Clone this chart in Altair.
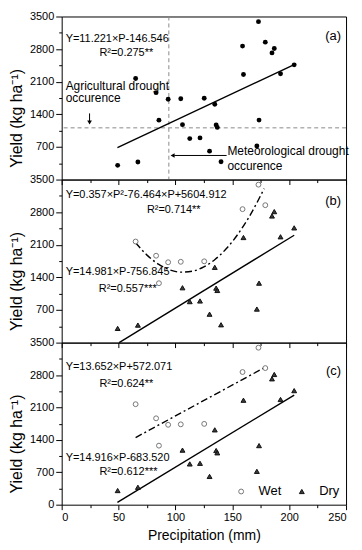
import altair as alt
import pandas as pd

# ---------------- data ----------------
wet_p = [65.0, 83.0, 85.5, 93.6, 104.7, 125.3, 159.0, 173.0, 179.0]
wet_y = [2170, 1865, 1275, 1725, 1735, 1745, 2865, 3390, 2950]

dry_p = [49.2, 67.0, 106.2, 112.6, 121.6, 130.0, 134.6, 135.8, 136.8, 140.1,
         159.8, 171.6, 173.5, 184.9, 186.9, 192.4, 204.4]
dry_y = [305, 376, 1178, 880, 894, 610, 1616, 1170, 1120, 383,
         2256, 720, 1276, 2718, 2812, 2272, 2463]
dry_in_c = [True, True, True, True, True, True, True, True, True, False,
            True, True, True, True, True, True, True]

# fitted lines (end points / curve points)
fit_a_p = [49.0, 204.4]
fit_a_y = [687, 2466]
fit_b_dry_p = [50.5, 204.4]
fit_b_dry_y = [0, 2305]
fit_b_wet_p = [65, 75, 85, 95, 105, 115, 125, 135, 145, 155, 165, 178]
fit_b_wet_y = [2143, 1878, 1685, 1563, 1512, 1533, 1625, 1789, 2024, 2330, 2708, 3306]
fit_c_wet_p = [65.0, 179.0]
fit_c_wet_y = [1450, 2970]
fit_c_dry_p = [49.0, 204.4]
fit_c_dry_y = [48, 2366]

met_drought_p = 94.2
agr_drought_y = 1110

x_major = [0, 50, 100, 150, 200, 250]
x_minor = [25, 75, 125, 175, 225]
y_major = [0, 700, 1400, 2100, 2800, 3500]
y_minor = [350, 1050, 1750, 2450, 3150]

FONT = "Liberation Sans"
W = 286
YTITLE = "Yield (kg ha⁻¹)"

pts_all = pd.DataFrame({"p": wet_p + dry_p, "v": wet_y + dry_y})
grp = pd.DataFrame({
    "p": wet_p + dry_p,
    "v": wet_y + dry_y,
    "group": ["Wet"] * len(wet_p) + ["Dry"] * len(dry_p),
    "in_c": [True] * len(wet_p) + dry_in_c,
})

xs = alt.Scale(domain=[0, 250], nice=False, zero=False)
ys = alt.Scale(domain=[0, 3500], nice=False, zero=False)


def axis_layers(df, show_x, y_vals, h):
    major = alt.Chart(df).mark_point(opacity=0).encode(
        x=alt.X("p:Q", scale=xs, axis=alt.Axis(
            orient="bottom", values=x_major, tickSize=5, labels=show_x, format="d",
            title="Precipitation (mm)" if show_x else None,
            labelPadding=2, titlePadding=6, titleFontSize=14, titleFontWeight="normal")),
        y=alt.Y("v:Q", scale=ys, axis=alt.Axis(
            orient="left", values=y_vals, tickSize=6, title=YTITLE, format="d",
            labelPadding=2, titlePadding=5, titleFontWeight="normal",
            titleY=h / 2 + 20)),
    )
    minor = alt.Chart(df).mark_point(opacity=0).encode(
        x=alt.X("p:Q", scale=xs, axis=alt.Axis(
            orient="bottom", values=x_minor, tickSize=3, labels=False, title=None)),
        y=alt.Y("v:Q", scale=ys, axis=alt.Axis(
            orient="left", values=y_minor, tickSize=3, labels=False, title=None)),
    )
    return [major, minor]


def X(field="p"):
    return alt.X(f"{field}:Q", scale=xs, axis=None)


def Y(field="v"):
    return alt.Y(f"{field}:Q", scale=ys, axis=None)


def line(ps, vs, dash=None):
    df = pd.DataFrame({"p": ps, "v": vs})
    kw = dict(color="black", strokeWidth=1.4)
    if dash:
        kw["strokeDash"] = dash
    m = alt.Chart(df).mark_line(interpolate="monotone", **kw)
    return m.encode(x=X(), y=Y(), order="p:Q")


def texts(items, align="left", size=11):
    df = pd.DataFrame(items, columns=["p", "v", "t"])
    return alt.Chart(df).mark_text(align=align, baseline="middle", font=FONT,
                                   fontSize=size, color="black").encode(
        x=X(), y=Y(), text="t:N")


def group_points(df, legend):
    dom = ["Wet", "Dry"]
    return alt.Chart(df).mark_point(size=24, strokeWidth=1, opacity=1).encode(
        x=X(), y=Y(),
        shape=alt.Shape("group:N", scale=alt.Scale(domain=dom, range=["circle", "triangle-up"]), legend=legend),
        fill=alt.Fill("group:N", scale=alt.Scale(domain=dom, range=["white", "#3a3a3a"]), legend=legend),
        stroke=alt.Stroke("group:N", scale=alt.Scale(domain=dom, range=["#777777", "#111111"]), legend=legend),
    )


HA, HB, HC = 164, 164, 163

# ---------------- panel (a) ----------------
vline = alt.Chart(pd.DataFrame({"p": [met_drought_p]})).mark_rule(
    color="#8a8a8a", strokeDash=[4, 3], strokeWidth=1).encode(x=X())
hline = alt.Chart(pd.DataFrame({"v": [agr_drought_y]})).mark_rule(
    color="#8a8a8a", strokeDash=[4, 3], strokeWidth=1).encode(y=Y())

arrow_df = pd.DataFrame({"p": [24.5, 145.0], "v": [1420, 517], "p2": [24.5, 99.0], "v2": [1240, 517]})
arrows = alt.Chart(arrow_df).mark_rule(color="black", strokeWidth=1).encode(
    x=X(), y=Y(), x2="p2:Q", y2="v2:Q")
head_down = alt.Chart(pd.DataFrame({"p": [24.5], "v": [1225]})).mark_point(
    shape="triangle-down", filled=True, color="black", size=22, opacity=1).encode(x=X(), y=Y())
head_left = alt.Chart(pd.DataFrame({"p": [97.5], "v": [517]})).mark_point(
    shape="triangle-left", filled=True, color="black", size=22, opacity=1).encode(x=X(), y=Y())

pts_a = alt.Chart(pts_all).mark_circle(size=24, color="black", opacity=1).encode(x=X(), y=Y())

panel_a = alt.layer(
    *axis_layers(pts_all, False, y_major[1:], HA),
    vline, hline, arrows, head_down, head_left,
    line(fit_a_p, fit_a_y), pts_a,
    texts([(3.5, 3027, "Y=11.221×P-146.546"), (33.2, 2722, "R²=0.275**")]),
    texts([(3.5, 2016, "Agricultural drought"), (3.5, 1740, "occurence"),
           (145.7, 602, "Meteorological drought"), (145.7, 299, "occurence")], size=12),
    texts([(245.6, 3076, "(a)")], align="right", size=13),
).resolve_axis(x="independent", y="independent").properties(width=W, height=HA)

# ---------------- panel (b) ----------------
panel_b = alt.layer(
    *axis_layers(grp, False, y_major[1:], HB),
    line(fit_b_wet_p, fit_b_wet_y, dash=[7, 3, 2, 3]),
    line(fit_b_dry_p, fit_b_dry_y),
    group_points(grp, None),
    texts([(3.5, 3167, "Y=0.357×P²-76.464×P+5604.912"), (74.9, 2849, "R²=0.714**"),
           (3.5, 1507, "Y=14.981×P-756.845"), (32.6, 1140, "R²=0.557***")]),
    texts([(245.6, 3034, "(b)")], align="right", size=13),
).resolve_axis(x="independent", y="independent").properties(width=W, height=HB)

# ---------------- panel (c) ----------------
grp_c = grp[grp["in_c"]]
leg = alt.Legend(title=None, orient="bottom-right", direction="horizontal",
                 labelFont=FONT, labelFontSize=13, labelColor="black",
                 symbolSize=24, symbolStrokeWidth=1, columnPadding=14,
                 labelOffset=11, offset=6, padding=0)
panel_c = alt.layer(
    *axis_layers(grp_c, True, y_major, HC),
    line(fit_c_wet_p, fit_c_wet_y, dash=[7, 3, 2, 3]),
    line(fit_c_dry_p, fit_c_dry_y),
    group_points(grp_c, leg),
    texts([(3.5, 2970, "Y=13.652×P+572.071"), (33.2, 2603, "R²=0.624**"),
           (3.5, 1013, "Y=14.916×P-683.520"), (33.2, 695, "R²=0.612***")]),
    texts([(245.6, 2885, "(c)")], align="right", size=13),
).resolve_axis(x="independent", y="independent").properties(width=W, height=HC)

chart = alt.vconcat(panel_a, panel_b, panel_c, spacing=0, bounds="flush").resolve_scale(
    shape="independent", fill="independent", stroke="independent"
).resolve_legend(shape="independent", fill="independent", stroke="independent").properties(
    padding={"left": 0, "top": 0, "right": 4, "bottom": 0}
).configure_view(stroke="black", strokeWidth=1).configure_axis(
    grid=False, domain=False, labelFont=FONT, labelFontSize=11, labelColor="black",
    tickColor="black", tickWidth=1, titleFont=FONT, titleFontSize=16,
    titleFontWeight="normal", titleColor="black"
)

chart.save("out.html", embed_options={"renderer": "svg", "actions": False})
